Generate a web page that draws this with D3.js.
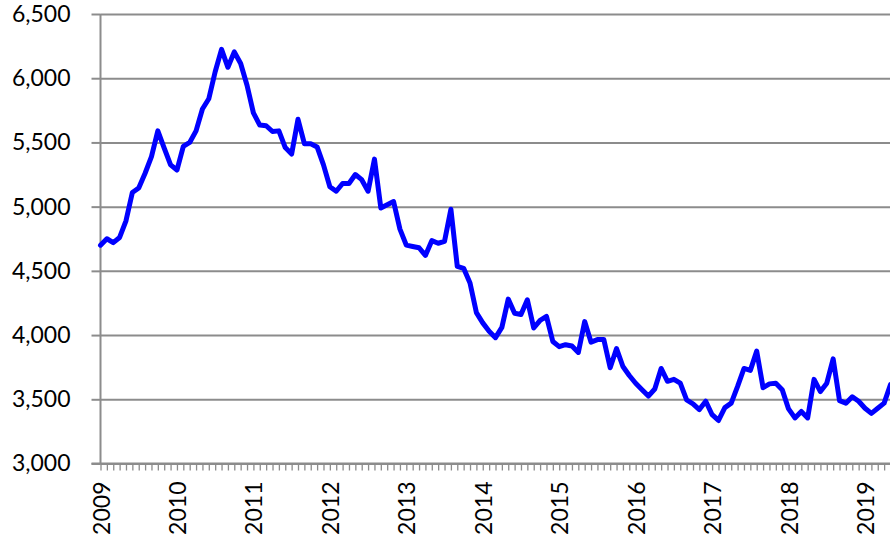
<!DOCTYPE html>
<html>
<head>
<meta charset="utf-8">
<script src="https://cdn.jsdelivr.net/npm/d3@7"></script>
<style>
  body { margin: 0; background: #fff; }
  svg { display: block; }
  .chart text { font-family: Lato, "Open Sans", sans-serif; font-size: 23px; fill: #000; }
  .domain, .tick line { stroke: #8c8c8c; }
</style>
</head>
<body>
<svg class="chart"></svg>
<script>
/* monthly series, Jan 2009 onwards */
var yearLabels = ["2009","2010","2011","2012","2013","2014","2015","2016","2017","2018","2019"];
var yTicks = [3000, 3500, 4000, 4500, 5000, 5500, 6000, 6500];
var values = [
  4700, 4750, 4720, 4760, 4890, 5110, 5145, 5260, 5390, 5590, 5455, 5325,
  5285, 5470, 5500, 5590, 5760, 5840, 6050, 6225, 6085, 6205, 6115, 5945,
  5730, 5635, 5630, 5585, 5590, 5460, 5410, 5680, 5490, 5490, 5465, 5325,
  5155, 5120, 5180, 5180, 5250, 5210, 5120, 5370, 4990, 5015, 5040, 4825,
  4700, 4690, 4680, 4620, 4735, 4715, 4730, 4980, 4535, 4520, 4405, 4175,
  4095, 4030, 3980, 4060, 4280, 4170, 4160, 4275, 4055, 4115, 4145, 3950,
  3910, 3925, 3915, 3865, 4105, 3945, 3965, 3965, 3745, 3895, 3755, 3685,
  3625, 3575, 3525, 3580, 3740, 3640, 3655, 3625, 3495, 3465, 3420, 3485,
  3380, 3335, 3435, 3470, 3600, 3740, 3725, 3875, 3590, 3620, 3625, 3575,
  3425, 3355, 3405, 3355, 3655, 3560, 3625, 3815, 3490, 3470, 3520, 3485,
  3430, 3390, 3430, 3470, 3615
];

var W = 890, H = 535;
var mLeft = 100.5, mTop = 14, mBottom = 463.5, mRight = 890.5;

var svg = d3.select(".chart")
    .attr("width", W)
    .attr("height", H);

var x = d3.scaleLinear()
    .domain([0, values.length - 1])
    .range([mLeft, mRight]);

var y = d3.scaleLinear()
    .domain([3000, 6500])
    .range([mBottom, mTop]);

// gridlines
svg.append("g")
    .attr("class", "grid")
    .attr("transform", "translate(" + mLeft + ",0)")
    .call(d3.axisLeft(y).tickValues(yTicks).tickSize(-(W - mLeft)).tickFormat(""))
    .call(function(g) { g.select(".domain").remove(); })
    .selectAll("line")
    .attr("stroke", "#9a9a9a")
    .attr("stroke-width", 2);

// y axis
svg.append("g")
    .attr("class", "yaxis")
    .attr("transform", "translate(" + mLeft + ",0)")
    .call(d3.axisLeft(y).tickValues(yTicks).tickSize(9).tickPadding(21).tickFormat(d3.format(",")))
    .call(function(g) {
      g.select(".domain").attr("stroke-width", 2).attr("d", "M0," + mTop + "V" + mBottom);
      g.selectAll(".tick line").attr("stroke-width", 2);
    });

// x axis with monthly ticks
svg.append("g")
    .attr("class", "xaxis")
    .attr("transform", "translate(0," + mBottom + ")")
    .call(d3.axisBottom(x).tickValues(d3.range(values.length)).tickSize(7).tickFormat(""))
    .call(function(g) {
      g.select(".domain").attr("stroke-width", 2).attr("d", "M" + (mLeft - 9) + ",0H" + W);
      g.selectAll(".tick line").attr("stroke-width", 1.3);
    });

// year labels
svg.append("g")
    .selectAll("text")
    .data(yearLabels)
    .enter()
  .append("text")
    .attr("transform", function(d, i) { return "translate(" + (x(i * 12) + 1) + "," + (mBottom + 18) + ") rotate(-90)"; })
    .attr("text-anchor", "end")
    .attr("dy", "0.35em")
    .text(function(d) { return d; });

// series
var line = d3.line()
    .x(function(d, i) { return x(i); })
    .y(function(d) { return y(d); });

svg.append("path")
    .datum(values)
    .attr("fill", "none")
    .attr("stroke", "#0000ff")
    .attr("stroke-width", 5)
    .attr("stroke-linejoin", "round")
    .attr("stroke-linecap", "round")
    .attr("d", line);
</script>
</body>
</html>
